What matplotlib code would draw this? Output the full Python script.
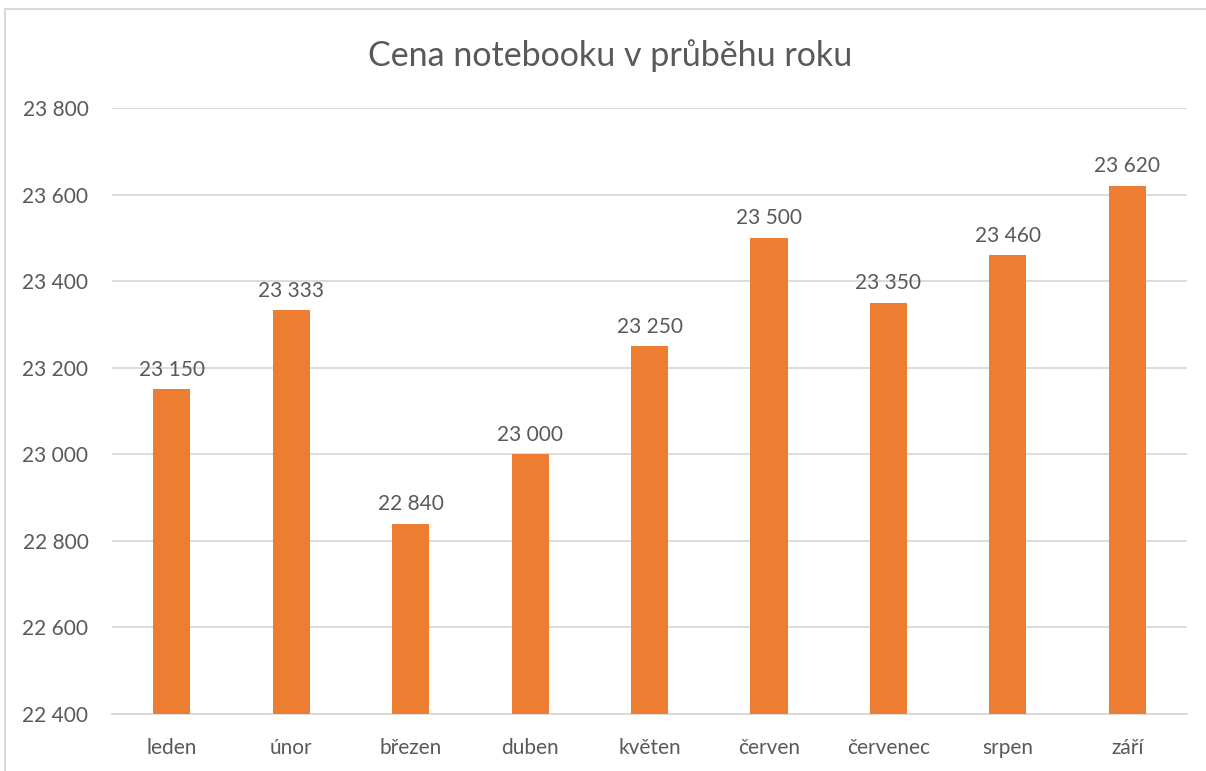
import matplotlib.pyplot as plt
from matplotlib.patches import Rectangle

# Monthly notebook prices
months = ['leden', 'únor', 'březen', 'duben', 'květen', 'červen', 'červenec', 'srpen', 'září']
prices = [23150, 23333, 22840, 23000, 23250, 23500, 23350, 23460, 23620]
y_ticks = [22400, 22600, 22800, 23000, 23200, 23400, 23600, 23800]

plt.rcParams['font.family'] = ['Lato', 'DejaVu Sans']
text_color = '#595959'
grid_color = '#d9d9d9'
bar_color = '#ED7D31'


def fmt(v):
    return f'{v:,}'.replace(',', ' ')


fig = plt.figure(figsize=(12.06, 7.71), dpi=100)
ax = fig.add_axes([0.0929, 0.0739, 0.8914, 0.786])

x = range(len(months))
ax.bar(x, prices, width=0.31, color=bar_color, zorder=3)
for i, v in zip(x, prices):
    ax.text(i, v + 22, fmt(v), ha='center', va='bottom', fontsize=15, color=text_color)

ax.set_xlim(-0.5, len(months) - 0.5)
ax.set_ylim(y_ticks[0], y_ticks[-1])
ax.set_yticks(y_ticks)
ax.set_yticklabels([fmt(t) for t in y_ticks])
ax.set_xticks(list(x))
ax.set_xticklabels(months)
ax.tick_params(axis='both', length=0, labelsize=15, colors=text_color)
ax.tick_params(axis='y', pad=17)
ax.tick_params(axis='x', pad=17)
ax.grid(axis='y', color=grid_color, linewidth=1.3, zorder=0)
for s in ['top', 'right', 'left']:
    ax.spines[s].set_visible(False)
ax.spines['bottom'].set_color(grid_color)
ax.spines['bottom'].set_linewidth(1.3)

fig.text(0.506, 0.928, 'Cena notebooku v průběhu roku', ha='center', va='center',
         fontsize=24.5, color=text_color)

# Light chart frame
fig.patches.append(Rectangle((5 / 1206, -0.05), 1.1, 1 - 9.5 / 771 + 0.05,
                             transform=fig.transFigure, fill=False,
                             edgecolor=grid_color, linewidth=1.5))

fig.savefig('out.png', dpi=100)
